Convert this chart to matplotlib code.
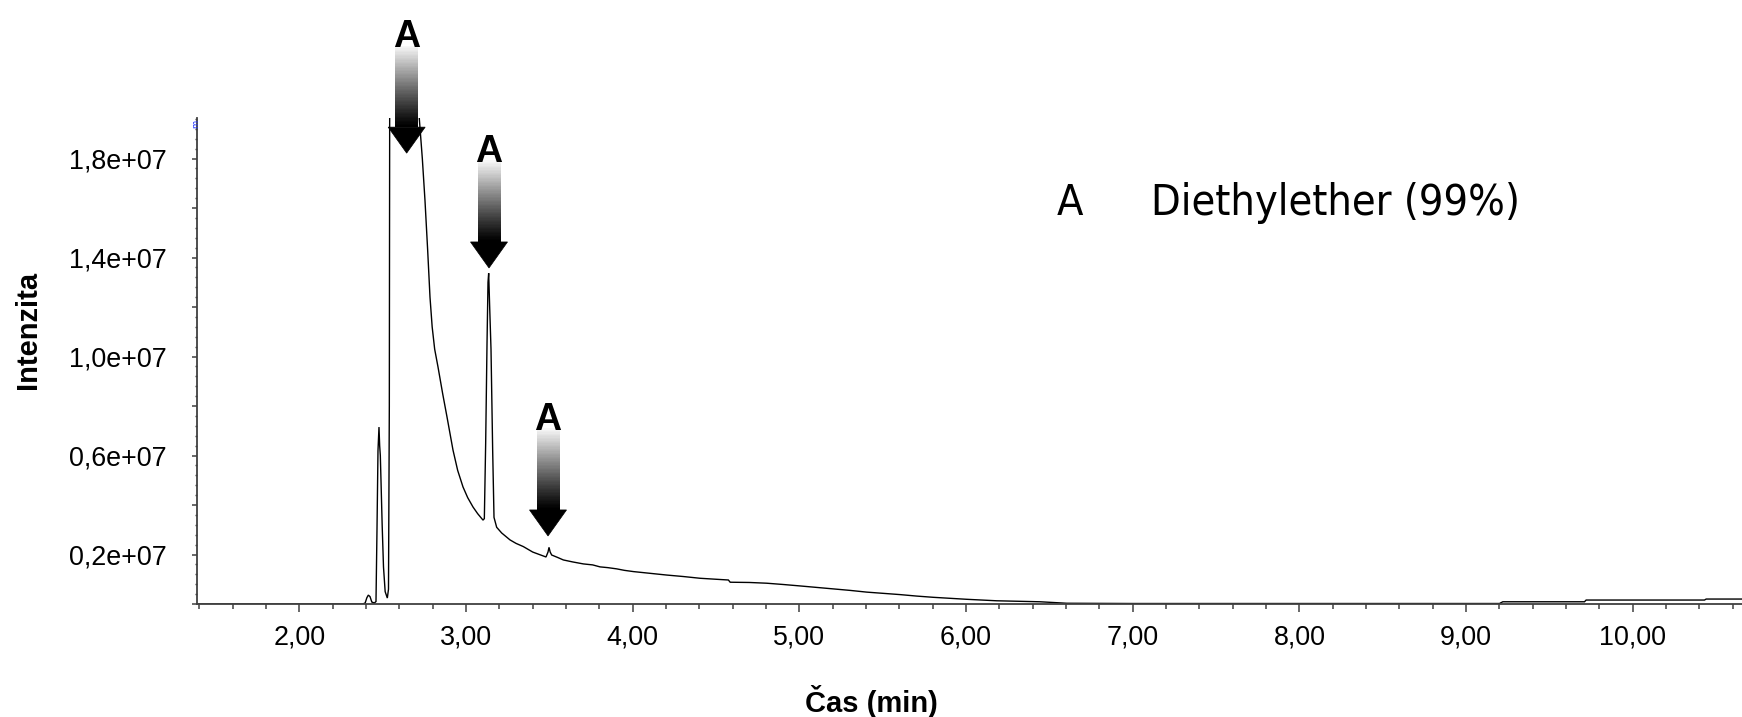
import matplotlib
matplotlib.use("Agg")
import matplotlib.pyplot as plt
import numpy as np
from matplotlib.ticker import MultipleLocator, FuncFormatter
from matplotlib.patches import Polygon, Rectangle
from matplotlib.transforms import IdentityTransform

# ---------------- data ----------------
time_min = [1.39, 2.38, 2.395, 2.405, 2.414, 2.424, 2.435, 2.45, 2.46, 2.466, 2.472, 2.478,
            2.482, 2.486, 2.490, 2.497, 2.505, 2.515, 2.528, 2.535, 2.540, 2.544, 2.715,
            2.720, 2.738, 2.754, 2.770, 2.784, 2.797, 2.812, 2.832, 2.860, 2.886, 2.922,
            2.950, 2.982, 3.010, 3.042, 3.070, 3.102, 3.110, 3.118, 3.126, 3.132, 3.136,
            3.142, 3.150, 3.160, 3.168, 3.184, 3.214, 3.264, 3.300, 3.344, 3.400, 3.464,
            3.480, 3.492, 3.498, 3.505, 3.514, 3.550, 3.584, 3.640, 3.704, 3.760, 3.804,
            3.850, 3.904, 3.950, 4.004, 4.104, 4.204, 4.304, 4.404, 4.500, 4.574, 4.585,
            4.700, 4.804, 4.900, 5.004, 5.104, 5.204, 5.304, 5.404, 5.504, 5.604, 5.704,
            5.804, 5.904, 6.004, 6.184, 6.444, 6.604, 7.000, 8.000, 9.200, 9.220, 9.710,
            9.720, 10.430, 10.440, 10.660]
intensity_e7 = [0.0, 0.0, 0.004, 0.025, 0.036, 0.030, 0.008, 0.004, 0.010, 0.30, 0.62, 0.715,
                0.64, 0.60, 0.50, 0.32, 0.15, 0.05, 0.024, 0.06, 0.80, 3.00, 3.00,
                1.96, 1.80, 1.63, 1.43, 1.24, 1.12, 1.03, 0.958, 0.85, 0.756, 0.622,
                0.54, 0.473, 0.43, 0.392, 0.365, 0.339, 0.345, 0.65, 1.05, 1.30, 1.337,
                1.20, 1.03, 0.62, 0.35, 0.31, 0.287, 0.259, 0.245, 0.232, 0.210, 0.194,
                0.190, 0.210, 0.229, 0.210, 0.198, 0.188, 0.178, 0.170, 0.162, 0.158, 0.150,
                0.147, 0.142, 0.136, 0.131, 0.124, 0.117, 0.111, 0.104, 0.100, 0.097, 0.088,
                0.087, 0.084, 0.079, 0.073, 0.067, 0.061, 0.055, 0.048, 0.043, 0.038, 0.032,
                0.027, 0.023, 0.019, 0.013, 0.009, 0.003, 0.002, 0.002, 0.002, 0.009, 0.009,
                0.016, 0.016, 0.020, 0.020]
intensity = [v * 1e7 for v in intensity_e7]

# arrow annotations: (time of tip, intensity of tip)
arrow_tip_time = [2.644, 3.138, 3.492]
arrow_tip_int_e7 = [1.822, 1.358, 0.275]
arrow_label = "A"

legend_key = "A"
legend_text = "Diethylether (99%)"
x_label = "Čas (min)"
y_label = "Intenzita"

# ---------------- figure ----------------
W, H = 1742, 717
fig = plt.figure(figsize=(W / 100, H / 100), dpi=100)
ax = fig.add_axes([197.3 / W, (H - 604) / H, (W - 197.3) / W, (604 - 118) / H])

ax.plot(time_min, intensity, color="black", lw=1.0, solid_joinstyle="miter")
ax.set_xlim(1.388, 10.655)
ax.set_ylim(0, 1.964e7)

for s in ["top", "right"]:
    ax.spines[s].set_visible(False)
for s in ["left", "bottom"]:
    ax.spines[s].set_color("#404040")
    ax.spines[s].set_linewidth(1.3)

ax.xaxis.set_major_locator(MultipleLocator(1.0))
ax.xaxis.set_minor_locator(MultipleLocator(0.2))
ax.xaxis.set_major_formatter(FuncFormatter(lambda v, p: f"{v:.2f}".replace(".", ",")))
ax.yaxis.set_major_locator(MultipleLocator(0.2e7))
ax.yaxis.set_minor_locator(MultipleLocator(0.04e7))


def yfmt(v, p):
    k = int(round(v / 0.2e7))
    if k % 2 == 1:
        return f"{v / 1e7:.1f}".replace(".", ",") + "e+07"
    return ""


ax.yaxis.set_major_formatter(FuncFormatter(yfmt))
ax.tick_params(axis="x", which="major", length=5.8, width=1.1, color="#404040", pad=9)
ax.tick_params(axis="x", which="minor", length=3.8, width=1.1, color="#404040")
ax.tick_params(axis="y", which="major", length=3.6, width=1.1, color="#404040", pad=18.4)
ax.tick_params(axis="y", which="minor", length=1.8, width=1.0, color="#404040")
for lab in ax.get_xticklabels() + ax.get_yticklabels():
    lab.set_fontfamily("Liberation Sans")
    lab.set_fontsize(19.4)

# axis labels placed in figure pixel positions
fig.text(871 / W, 1 - 701 / H, x_label, ha="center", va="center",
         family="Liberation Sans", weight="bold", fontsize=21)
fig.text(28 / W, 1 - 330 / H, y_label, ha="center", va="center", rotation=90,
         family="Liberation Sans", weight="bold", fontsize=21)

# tiny blue marker at the top of the y axis
fig.text(195.5 / W, 1 - 124 / H, "m", color="#2030ff", fontsize=6, rotation=90,
         ha="center", va="center", family="DejaVu Sans")

# legend text
fig.text(1057 / W, 1 - 214.6 / H, legend_key, ha="left", va="baseline",
         family="DejaVu Sans", fontstretch="condensed", fontsize=31)
fig.text(1151 / W, 1 - 214.6 / H, legend_text, ha="left", va="baseline",
         family="DejaVu Sans", fontstretch="condensed", fontsize=31)

# gradient arrows
fig.canvas.draw()
ident = IdentityTransform()
head_len, head_hw, shaft_hw, shaft_len = 26, 18.5, 11.5, 81
nstrip = 60
for tt, vv in zip(arrow_tip_time, arrow_tip_int_e7):
    xd, yd = ax.transData.transform((tt, vv * 1e7))
    base = yd + head_len
    top = base + shaft_len
    for i in range(nstrip):
        frac = i / (nstrip - 1)  # 0 at top, 1 at bottom
        g = 0.97 * (1 - frac) ** 1.1
        y0 = top - (i + 1) * shaft_len / nstrip
        fig.patches.append(Rectangle((xd - shaft_hw, y0), 2 * shaft_hw, shaft_len / nstrip + 0.6,
                                     transform=ident, facecolor=(g, g, g), edgecolor="none",
                                     figure=fig))
    fig.patches.append(Polygon([(xd - head_hw, base), (xd + head_hw, base), (xd, yd)],
                               closed=True, transform=ident, facecolor="black",
                               edgecolor="black", lw=0.5, figure=fig))
    fig.text(xd / W, (top - 1) / H, arrow_label, ha="center", va="baseline",
             family="Liberation Sans", weight="bold", fontsize=27)

fig.savefig("out.png", dpi=100)
